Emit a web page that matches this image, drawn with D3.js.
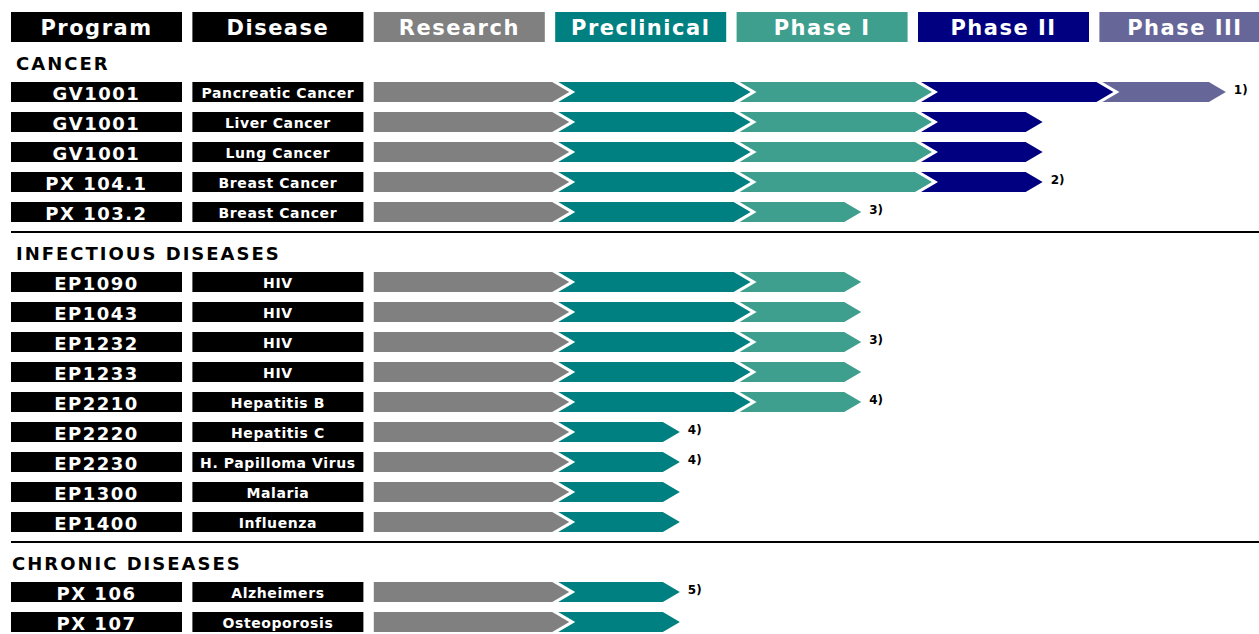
<!DOCTYPE html>
<html>
<head>
<meta charset="utf-8">
<script src="https://cdn.jsdelivr.net/npm/d3@7"></script>
<style>
  body { margin: 0; background: #fff; }
  text { font-family: "DejaVu Sans", Verdana, sans-serif; font-weight: bold; }
</style>
</head>
<body>
<div id="container"></div>
<script>
// pipeline data
var columns = ["Program", "Disease", "Research", "Preclinical", "Phase I", "Phase II", "Phase III"];
var stageColors = ["#808080", "#008080", "#3f9f8f", "#000080", "#666699"];
var groups = ["CANCER", "INFECTIOUS DISEASES", "CHRONIC DISEASES"];

var programs = ["GV1001", "GV1001", "GV1001", "PX 104.1", "PX 103.2",
                "EP1090", "EP1043", "EP1232", "EP1233", "EP2210", "EP2220", "EP2230", "EP1300", "EP1400",
                "PX 106", "PX 107"];
var diseases = ["Pancreatic Cancer", "Liver Cancer", "Lung Cancer", "Breast Cancer", "Breast Cancer",
                "HIV", "HIV", "HIV", "HIV", "Hepatitis B", "Hepatitis C", "H. Papilloma Virus", "Malaria", "Influenza",
                "Alzheimers", "Osteoporosis"];
var groupOf = [0, 0, 0, 0, 0, 1, 1, 1, 1, 1, 1, 1, 1, 1, 2, 2];
// progress in stage units (0 = start of Research, 5 = end of Phase III)
var progress = [4.62, 3.61, 3.61, 3.61, 2.61,
                2.61, 2.61, 2.61, 2.61, 2.61, 1.61, 1.61, 1.61, 1.61,
                1.61, 1.61];
var notes = ["1)", "", "", "2)", "3)",
             "", "", "3)", "", "4)", "4)", "4)", "", "",
             "5)", ""];

var width = 1259, height = 634;

var svg = d3.select("#container")
  .append("svg")
    .attr("width", width)
    .attr("height", height);

// column positions
var x = d3.scaleLinear()
  .domain([0, 7])
  .range([11, 11 + 7 * 181.4]);
var colW = 171;

// row positions: each later group adds a gap of 4/3 rows
var y = d3.scaleLinear()
  .domain([0, 1])
  .range([92, 122]);
function rowY(i) { return y(i + groupOf[i] * 4 / 3); }
var barH = 20, tip = 17, gap = 3;

// header
var head = svg.append("g");
head.selectAll("rect")
  .data(columns)
  .enter()
  .append("rect")
    .attr("x", function(d, i) { return x(i); })
    .attr("y", 12)
    .attr("width", colW)
    .attr("height", 30)
    .attr("fill", function(d, i) { return i < 2 ? "#000" : stageColors[i - 2]; });
head.selectAll("text")
  .data(columns)
  .enter()
  .append("text")
    .attr("x", function(d, i) { return x(i) + colW / 2; })
    .attr("y", 35)
    .attr("text-anchor", "middle")
    .attr("fill", "#fff")
    .style("font-size", "21px")
    .style("letter-spacing", "1.5px")
    .text(function(d) { return d; });

// group labels and separators
groups.forEach(function(g, gi) {
  var first = groupOf.indexOf(gi);
  var yc = rowY(first);
  svg.append("text")
    .attr("x", gi === 2 ? 12 : 16)
    .attr("y", yc - 22)
    .style("font-size", "18px")
    .style("letter-spacing", "2px")
    .text(g);
  if (gi > 0) {
    svg.append("line")
      .attr("x1", 11).attr("x2", width)
      .attr("y1", yc - 50).attr("y2", yc - 50)
      .attr("stroke", "#000")
      .attr("stroke-width", 2);
  }
});

// rows
var rows = svg.selectAll(".row")
  .data(programs)
  .enter()
  .append("g")
    .attr("class", "row")
    .attr("transform", function(d, i) { return "translate(0," + rowY(i) + ")"; });

rows.append("rect")
  .attr("x", x(0)).attr("y", -barH / 2)
  .attr("width", colW).attr("height", barH)
  .attr("fill", "#000");
rows.append("text")
  .attr("x", x(0) + colW / 2).attr("y", 8)
  .attr("text-anchor", "middle")
  .attr("fill", "#fff")
  .style("font-size", "18px")
  .style("letter-spacing", "1.5px")
  .text(function(d) { return d; });

rows.append("rect")
  .attr("x", x(1)).attr("y", -barH / 2)
  .attr("width", colW).attr("height", barH)
  .attr("fill", "#000");
rows.append("text")
  .attr("x", x(1) + colW / 2).attr("y", 5.5)
  .attr("text-anchor", "middle")
  .attr("fill", "#fff")
  .style("font-size", "14px")
  .style("letter-spacing", "0.6px")
  .text(function(d, i) { return diseases[i]; });

// chevron segments
rows.each(function(d, i) {
  var v = progress[i];
  var segs = [];
  for (var s = 0; s < Math.ceil(v); s++) {
    segs.push({ s: s, from: s, to: Math.min(s + 1, v) });
  }
  d3.select(this).selectAll("path")
    .data(segs)
    .enter()
    .append("path")
      .attr("d", function(p) {
        var x0 = x(p.from + 2) + (p.s > 0 ? gap : 0);
        var x1 = x(p.to + 2) - gap;
        var h = barH / 2;
        var pts = [[x0, -h], [x1, -h], [x1 + tip, 0], [x1, h], [x0, h]];
        if (p.s > 0) pts.push([x0 + tip, 0]);
        return d3.line()(pts) + "Z";
      })
      .attr("fill", function(p) { return stageColors[p.s]; });
  if (notes[i]) {
    d3.select(this).append("text")
      .attr("x", x(v + 2) - gap + tip + 8)
      .attr("y", 2)
      .style("font-size", "12px")
      .text(notes[i]);
  }
});
</script>
</body>
</html>
